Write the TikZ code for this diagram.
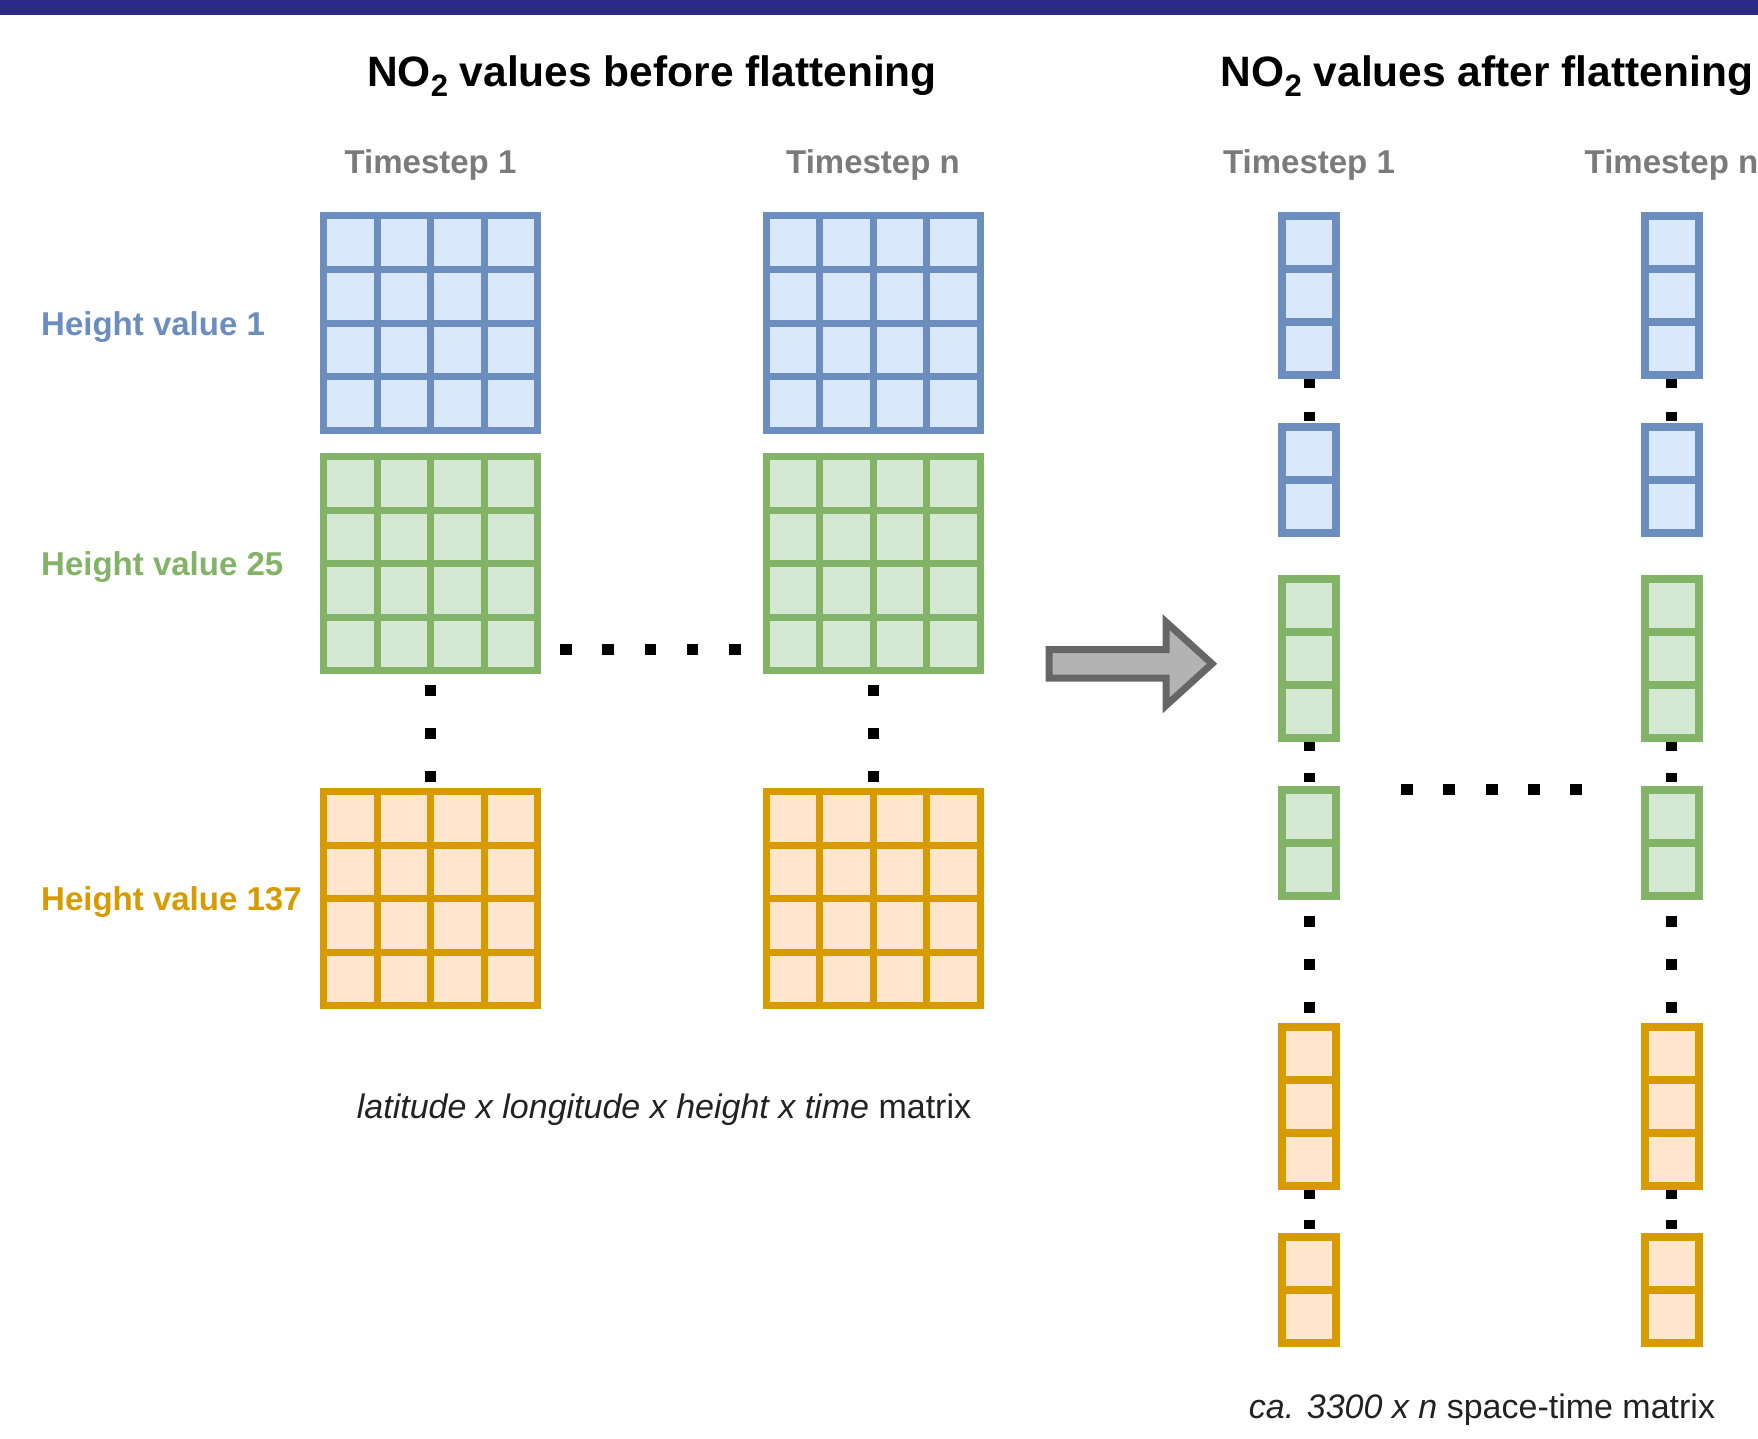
\documentclass[tikz,border=0pt]{standalone}
\usepackage{fontspec}
\setmainfont{Liberation Sans}
\usetikzlibrary{calc}

\definecolor{band}{RGB}{43,42,133}
\definecolor{bstroke}{HTML}{6C8EBF}
\definecolor{bfill}{HTML}{DAE8FC}
\definecolor{gstroke}{HTML}{82B366}
\definecolor{gfill}{HTML}{D5E8D4}
\definecolor{ostroke}{HTML}{D79B00}
\definecolor{ofill}{HTML}{FFE6CC}
\definecolor{tsgray}{HTML}{7B7B7B}
\definecolor{captext}{HTML}{222222}
\definecolor{arrowfill}{HTML}{B3B3B3}
\definecolor{arrowstroke}{HTML}{666666}

% lowered "2" for the NO2 titles
\newcommand\NOsub{\raisebox{-0.22em}{\fontsize{31}{31}\selectfont 2}}

\tikzset{
  % a box split into cells: stroke, fill, columns, rows, line width
  cells/.style n args={5}{
    draw=#1, fill=#2, line width=#5, rectangle, inner sep=0pt,
    path picture={
      \foreach \k in {1,2,3}{%
        \ifnum\k<#3\relax
          \draw[draw=#1, line width=#5]
            ($(path picture bounding box.south west)!\k/#3!(path picture bounding box.south east)$) --
            ($(path picture bounding box.north west)!\k/#3!(path picture bounding box.north east)$);
        \fi
        \ifnum\k<#4\relax
          \draw[draw=#1, line width=#5]
            ($(path picture bounding box.north west)!\k/#4!(path picture bounding box.south west)$) --
            ($(path picture bounding box.north east)!\k/#4!(path picture bounding box.south east)$);
        \fi
      }
    }
  },
  bluegrid/.style={cells={bstroke}{bfill}{4}{4}{7pt}, minimum width=214pt, minimum height=214pt},
  greengrid/.style={cells={gstroke}{gfill}{4}{4}{7pt}, minimum width=214pt, minimum height=214pt},
  orangegrid/.style={cells={ostroke}{ofill}{4}{4}{7pt}, minimum width=214pt, minimum height=214pt},
  bluecol/.style={cells={bstroke}{bfill}{1}{#1}{8pt}, minimum width=54pt, minimum height=#1*53pt},
  greencol/.style={cells={gstroke}{gfill}{1}{#1}{8pt}, minimum width=54pt, minimum height=#1*53pt},
  orangecol/.style={cells={ostroke}{ofill}{1}{#1}{8pt}, minimum width=54pt, minimum height=#1*53pt},
  title/.style={font=\fontsize{42.5}{50}\selectfont\bfseries, anchor=base, inner sep=0pt},
  tslabel/.style={font=\fontsize{33}{40}\selectfont\bfseries, text=tsgray, anchor=base, inner sep=0pt},
  hlabel/.style={font=\fontsize{33}{40}\selectfont\bfseries, anchor=base west, inner sep=0pt},
  caption/.style={font=\fontsize{34}{40}\selectfont, text=captext, anchor=base, inner sep=0pt},
  dotline/.style={draw=black, line width=11pt, line cap=butt},
  arrowline/.style={draw=arrowstroke, fill=arrowfill, line width=7pt, line join=miter},
}

\begin{document}
\begin{tikzpicture}[x=1pt, y=-1pt]
\clip (0,0) rectangle (1758,1439);
\fill[white] (0,0) rectangle (1758,1439);
\fill[band] (0,0) rectangle (1758,15);

% headings
\node[title] (ttlBefore) at (652,87) {NO\NOsub{} values before flattening};
\node[title] (ttlAfter) at (1487,87) {NO\NOsub{} values after flattening};

\node[tslabel] (tsA1) at (430.5,174) {Timestep 1};
\node[tslabel] (tsAn) at (873,174) {Timestep n};
\node[tslabel] (tsB1) at (1309,174) {Timestep 1};
\node[tslabel] (tsBn) at (1671.5,174) {Timestep n};

% height labels
\node[hlabel, text=bstroke] (hv1) at (41,335) {Height value 1};
\node[hlabel, text=gstroke] (hv25) at (41,575.5) {Height value 25};
\node[hlabel, text=ostroke] (hv137) at (41,910.5) {Height value 137};

% 4x4 grids before flattening
\node[bluegrid] (b1) at (430.5,323) {};
\node[greengrid] (g1) at (430.5,563.5) {};
\node[orangegrid] (o1) at (430.5,898.5) {};
\node[bluegrid] (bn) at (873,323) {};
\node[greengrid] (gn) at (873,563.5) {};
\node[orangegrid] (on) at (873,898.5) {};

% flattened columns
\node[bluecol=3] (cb1a) at (1309,295.5) {};
\node[bluecol=2] (cb1b) at (1309,480) {};
\node[greencol=3] (cg1a) at (1309,658.5) {};
\node[greencol=2] (cg1b) at (1309,842.5) {};
\node[orangecol=3] (co1a) at (1309,1106.5) {};
\node[orangecol=2] (co1b) at (1309,1290) {};

\node[bluecol=3] (cbna) at (1671.5,295.5) {};
\node[bluecol=2] (cbnb) at (1671.5,480) {};
\node[greencol=3] (cgna) at (1671.5,658.5) {};
\node[greencol=2] (cgnb) at (1671.5,842.5) {};
\node[orangecol=3] (cona) at (1671.5,1106.5) {};
\node[orangecol=2] (conb) at (1671.5,1290) {};

% dotted continuations
\draw[dotline, dash pattern=on 11pt off 32pt, dash phase=32pt] (g1.south) -- (o1.north);
\draw[dotline, dash pattern=on 11pt off 32pt, dash phase=32pt] (gn.south) -- (on.north);

\coordinate (hdA) at (560,649);
\coordinate (hdB) at (741,649);
\draw[dotline, dash pattern=on 11.5pt off 30.75pt] (hdA) -- (hdB);

\foreach \c in {1,n}{
  \draw[dotline, dash pattern=on 9pt off 24pt] (cb\c a.south) -- (cb\c b.north);
  \draw[dotline, dash pattern=on 9pt off 22pt] (cg\c a.south) -- (cg\c b.north);
  \draw[dotline, dash pattern=on 11pt off 32pt, dash phase=27pt] (cg\c b.south) -- (co\c a.north);
  \draw[dotline, dash pattern=on 9pt off 21pt] (co\c a.south) -- (co\c b.north);
}

\coordinate (hdC) at (1401,789.5);
\coordinate (hdD) at (1582,789.5);
\draw[dotline, dash pattern=on 12pt off 30.25pt] (hdC) -- (hdD);

% block arrow
\draw[arrowline] (1049,649.5) -- (1166,649.5) -- (1166,622) -- (1212,663.75)
  -- (1166,705.5) -- (1166,678) -- (1049,678) -- cycle;

% captions
\node[caption] (capL) at (664,1118) {\textit{latitude x longitude x height x time} matrix};
\node[caption] (capR) at (1482,1418) {\textit{ca. 3300 x n} space-time matrix};
\end{tikzpicture}
\end{document}
